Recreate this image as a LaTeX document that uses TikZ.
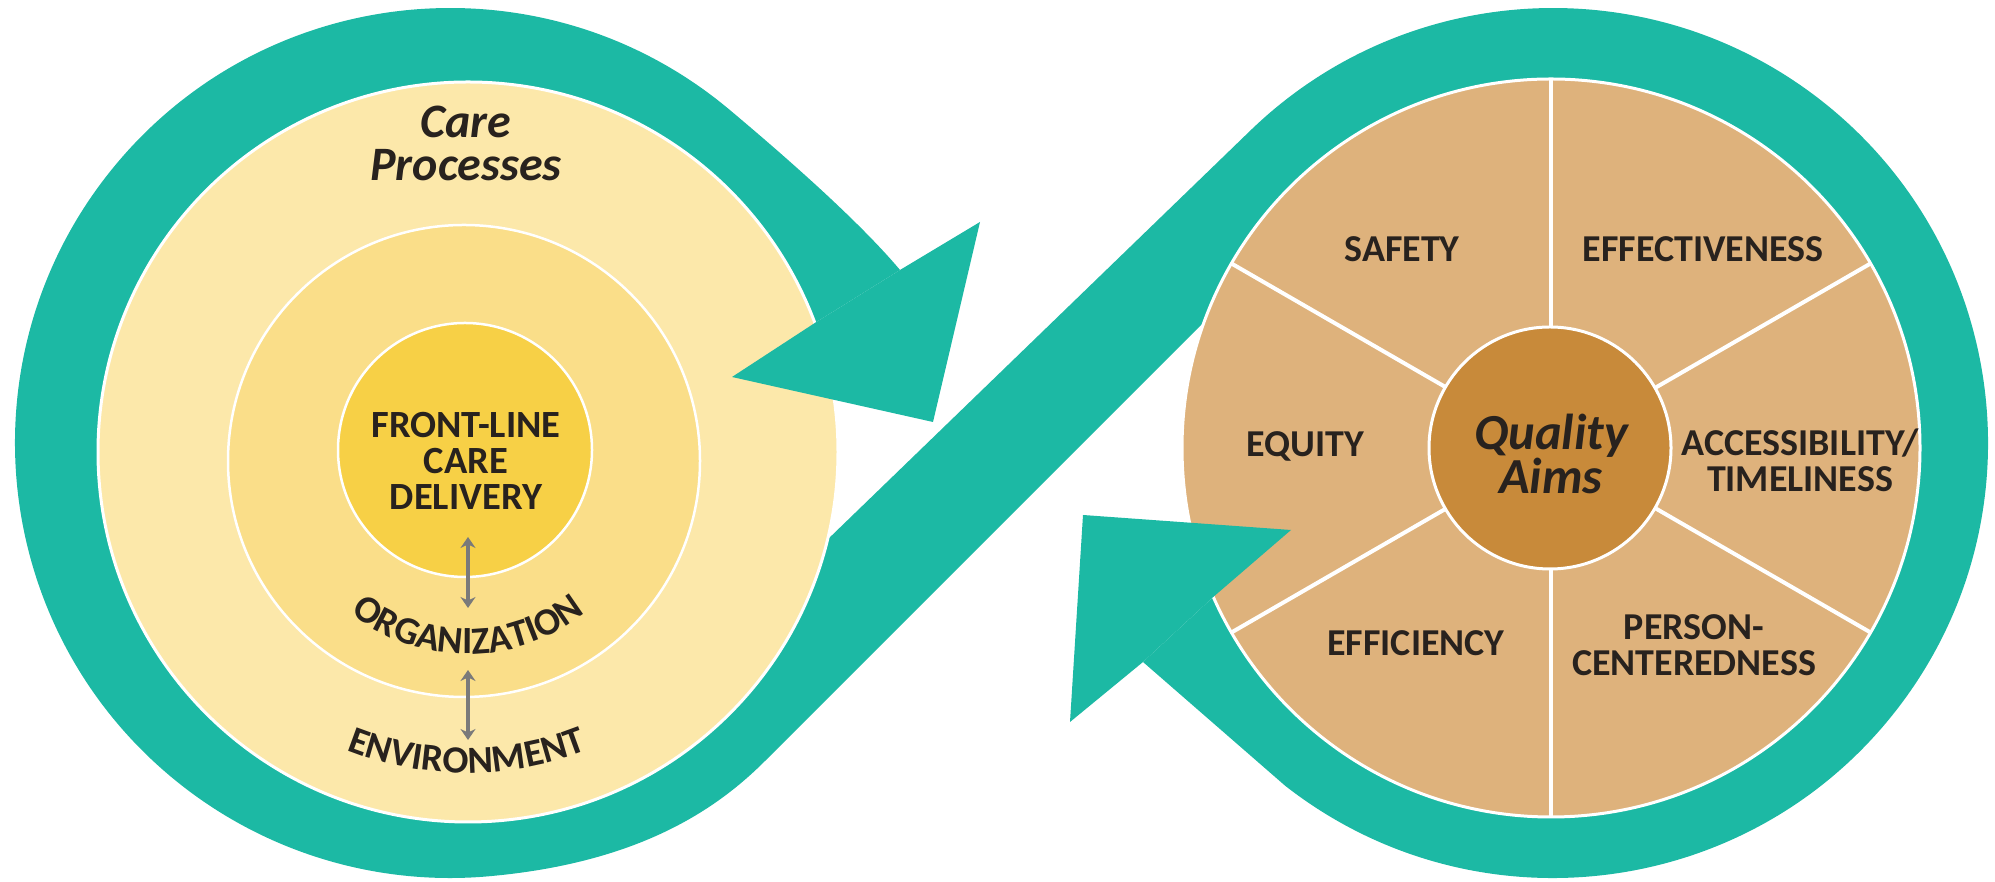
\documentclass[tikz,border=0pt]{standalone}
\usepackage{fontspec}
\setmainfont{Carlito}
\usetikzlibrary{arrows.meta,decorations.text}
\definecolor{teal1}{RGB}{28,185,164}
\definecolor{ylight}{RGB}{252,232,170}
\definecolor{ymid}{RGB}{250,222,137}
\definecolor{yin}{RGB}{247,208,70}
\definecolor{tan1}{RGB}{222,178,124}
\definecolor{tan2}{RGB}{200,138,58}
\definecolor{ink}{RGB}{40,34,30}
\definecolor{arrowgray}{RGB}{122,122,122}
\begin{document}
\begin{tikzpicture}[x=1pt,y=1pt,
  capsl/.style={font=\fontsize{38.5}{36}\selectfont\bfseries, text=ink, align=center, inner sep=0pt},
  capsr/.style={font=\fontsize{38}{36}\selectfont\bfseries, text=ink, align=center, inner sep=0pt},
  italtitle/.style={font=\fontsize{48}{43}\selectfont\bfseries\itshape, text=ink, align=center, inner sep=0pt},
  disc/.style={circle, draw=white, line width=3pt, inner sep=0pt},
  spoke/.style={draw=white, line width=4pt},
  link/.style={draw=arrowgray, line width=4.5pt, {Stealth[length=11pt,width=15pt]}-{Stealth[length=11pt,width=15pt]}},
]
\useasboundingbox (0,0) rectangle (1995,882);

% teal band
\fill[teal1] (900,612) .. controls (858,662) and (783.2,727.2) .. (729.6,772.2)
  arc[start angle=50, end angle=275, radius=435]
  .. controls (637.3,18.8) and (715.5,71.5) .. (765,121)
  -- (1204.3,560.3)
  arc[start angle=160.0, end angle=-156.2, radius=369]
  -- (1143,220) -- (1285.2,96.2)
  arc[start angle=-128, end angle=134.05, radius=435]
  -- (827.5,342.4)
  arc[start angle=-13.7, end angle=-339.6, radius=370]
  -- cycle;

% left discs
\node[disc, fill=ylight, minimum size=740pt] (envdisc) at (468,430) {};
\node[disc, fill=ymid, minimum size=472pt, line width=2.5pt] (orgdisc) at (464,421) {};
\node[disc, fill=yin, minimum size=254pt, line width=2.5pt] (coredisc) at (465,432) {};

% right disc
\node[disc, fill=tan1, minimum size=738pt] (aimdisc) at (1551,434) {};
\foreach \a in {90,30,-30,-90,-150,150}
  \draw[spoke] (aimdisc.center) -- ++(\a:369);
\node[disc, fill=tan2, minimum size=242pt] (qadisc) at (1550,434) {};

% arrowheads
\fill[teal1] (814.8,559) -- (732,505) -- (933,460) -- (980,660) -- (900,612) -- cycle;
\fill[teal1] (1213.1,284.9) -- (1291,352) -- (1083,367) -- (1070,160) -- (1143,220) -- cycle;

% left texts
\node[italtitle] (care) at (466,739) {Care\\Processes};
\node[capsl] (front) at (466,421) {FRONT-LINE\\CARE\\DELIVERY};
\coordinate (a1top) at (468,345);
\coordinate (a1bot) at (468,274);
\coordinate (a2top) at (468,212);
\coordinate (a2bot) at (468,142);
\draw[link] (a1top) -- (a1bot);
\draw[link] (a2top) -- (a2bot);
\path[decorate, decoration={text along path, text={|\fontsize{38.5}{36}\selectfont\bfseries|ORGANIZATION}, text align=center, text color=ink}]
  (468,417) ++(-150:189) arc[start angle=-150, end angle=-30, radius=189];
\path[decorate, decoration={text along path, text={|\fontsize{38.5}{36}\selectfont\bfseries|ENVIRONMENT}, text align=center, text color=ink}]
  (467,436) ++(-125:327) arc[start angle=-125, end angle=-55, radius=327];

% right texts
\node[italtitle, font=\fontsize{50.5}{40}\selectfont\bfseries\itshape] (qa) at (1551,428) {Quality\\Aims};
\node[capsr] (safety) at (1402,633) {SAFETY};
\node[capsr] (effect) at (1703,633) {EFFECTIVENESS};
\node[capsr] (equity) at (1305,436) {EQUITY};
\node[capsr] (access) at (1800,422) {ACCESSIBILITY/\\TIMELINESS};
\node[capsr] (effic) at (1416,239) {EFFICIENCY};
\node[capsr] (person) at (1694,237) {PERSON-\\CENTEREDNESS};
\end{tikzpicture}
\end{document}
